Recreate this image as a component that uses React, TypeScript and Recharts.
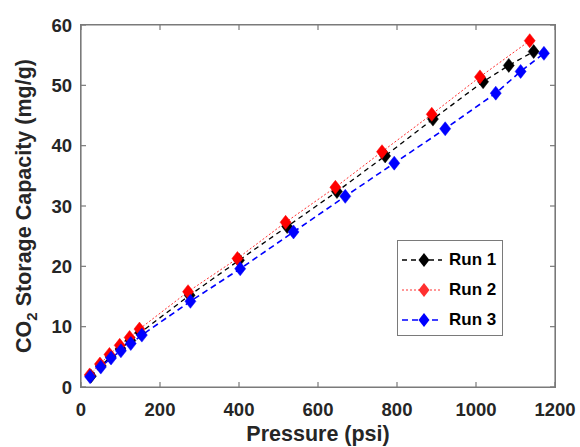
import React from 'react';
import { LineChart, Line, XAxis, YAxis, ReferenceLine } from 'recharts';

const run1X = [25, 50, 75, 100, 125, 150, 275, 400, 522, 648, 770, 891, 1018, 1083, 1146];
const run1Y = [1.8, 3.5, 5.0, 6.3, 7.7, 9.0, 15.2, 21.0, 26.6, 32.4, 38.3, 44.4, 50.6, 53.3, 55.6];
const run2X = [22, 48, 72, 98, 123, 148, 271, 396, 518, 644, 762, 888, 1010, 1136];
const run2Y = [2.0, 3.8, 5.4, 6.9, 8.2, 9.6, 15.8, 21.3, 27.3, 33.1, 39.0, 45.2, 51.4, 57.4];
const run3X = [23, 50, 76, 101, 126, 154, 277, 403, 538, 669, 793, 922, 1050, 1113, 1172];
const run3Y = [1.7, 3.3, 4.8, 6.0, 7.2, 8.6, 14.2, 19.6, 25.7, 31.6, 37.1, 42.8, 48.7, 52.3, 55.3];

const xTicks = [0, 200, 400, 600, 800, 1000, 1200];
const yTicks = [0, 10, 20, 30, 40, 50, 60];
const seriesNames = ['Run 1', 'Run 2', 'Run 3'];

const X_MAX = 1200;
const Y_MAX = 60;

const toPoints = (xs: number[], ys: number[]) => xs.map((x, i) => ({ x, y: ys[i] }));
const data1 = toPoints(run1X, run1Y);
const data2 = toPoints(run2X, run2Y);
const data3 = toPoints(run3X, run3Y);

const FONT = '"Liberation Sans", Arial, Helvetica, sans-serif';
const TEXT = '#262626';
const AXIS = '#7a7a7a';
const TL = 5;

const BottomTick = (p: any) => (
  <g>
    <path d={`M${p.x},${p.y}L${p.x},${p.y - TL}`} stroke={AXIS} strokeWidth={1.2} fill="none" />
    <path d={`M${p.x},25L${p.x},${25 + TL}`} stroke={AXIS} strokeWidth={1.2} fill="none" />
    <text x={p.x} y={p.y + 29} textAnchor="middle" fontFamily={FONT} fontWeight="bold" fontSize={18.5} fill={TEXT}>
      {p.payload.value}
    </text>
  </g>
);
const LeftTick = (p: any) => (
  <g>
    <path d={`M${p.x},${p.y}L${p.x + TL},${p.y}`} stroke={AXIS} strokeWidth={1.2} fill="none" />
    <path d={`M555,${p.y}L${555 - TL},${p.y}`} stroke={AXIS} strokeWidth={1.2} fill="none" />
    <text x={p.x - 9} y={p.y + 6.5} textAnchor="end" fontFamily={FONT} fontWeight="bold" fontSize={18.5} fill={TEXT}>
      {p.payload.value}
    </text>
  </g>
);

const makeDiamond = (color: string) => (p: any) => {
  const { cx, cy, index } = p;
  if (cx == null || cy == null) return <g key={index} />;
  const w = 5.5, h = 7;
  return (
    <path
      key={index}
      d={`M${cx},${cy - h}L${cx + w},${cy}L${cx},${cy + h}L${cx - w},${cy}Z`}
      fill={color}
      stroke={color}
      strokeWidth={0.5}
    />
  );
};

const YLabel = (props: any) => {
  const vb = props.viewBox || { x: 21, y: 25, width: 60, height: 362 };
  const cx = 31;
  const cy = vb.y + vb.height / 2;
  return (
    <text
      x={cx}
      y={cy}
      transform={`rotate(-90, ${cx}, ${cy})`}
      textAnchor="middle"
      fontFamily={FONT}
      fontWeight="bold"
      fontSize={21.5}
      fill={TEXT}
    >
      <tspan>CO</tspan>
      <tspan fontSize={15} dy={6}>2</tspan>
      <tspan dy={-6}> Storage Capacity (mg/g)</tspan>
    </text>
  );
};

const XLabel = (props: any) => {
  const vb = props.viewBox || { x: 81, y: 387, width: 474, height: 30 };
  return (
    <text
      x={vb.x + vb.width / 2}
      y={441}
      textAnchor="middle"
      fontFamily={FONT}
      fontWeight="bold"
      fontSize={21.5}
      fill={TEXT}
    >
      Pressure (psi)
    </text>
  );
};

const legendStyles = [
  { color: '#000000', dash: '5 4', width: 1.3 },
  { color: '#ff3030', dash: '2 2', width: 1 },
  { color: '#0000ff', dash: '6 4', width: 1.6 },
];

const LegendBox = () => (
  <div
    style={{
      position: 'absolute',
      left: 397,
      top: 240,
      width: 106,
      height: 96,
      border: `1px solid ${AXIS}`,
      background: '#fff',
      boxSizing: 'border-box',
    }}
  >
    {seriesNames.map((name, i) => {
      const s = legendStyles[i];
      return (
        <div key={name} style={{ position: 'absolute', left: 0, top: 5 + i * 30, height: 28, width: 106 }}>
          <svg width={48} height={28} style={{ position: 'absolute', left: 2, top: 0 }}>
            <line x1={2} x2={42} y1={14} y2={14} stroke={s.color} strokeWidth={s.width} strokeDasharray={s.dash} />
            <path d="M24,7L29.5,14L24,21L18.5,14Z" fill={s.color} />
          </svg>
          <span
            style={{
              position: 'absolute',
              left: 51,
              top: 3,
              fontFamily: FONT,
              fontWeight: 'bold',
              fontSize: 17,
              color: '#000',
              lineHeight: '22px',
              whiteSpace: 'nowrap',
            }}
          >
            {name}
          </span>
        </div>
      );
    })}
  </div>
);

export default function App() {
  return (
    <div style={{ position: 'absolute', left: 0, top: 0, width: 580, height: 447, background: '#fff' }}>
      <div
        style={{
          position: 'absolute',
          left: 80,
          top: 24,
          width: 476,
          height: 364,
          border: `1px solid ${AXIS}`,
          boxSizing: 'border-box',
          pointerEvents: 'none',
        }}
      />
      <LineChart
        width={580}
        height={447}
        margin={{ top: 25, right: 25, left: 21, bottom: 30 }}
        style={{ position: 'absolute', left: 0, top: 0 }}
      >
        <XAxis
          type="number"
          dataKey="x"
          domain={[0, X_MAX]}
          ticks={xTicks}
          interval={0}
          allowDataOverflow
          height={30}
          tickSize={0}
          tickMargin={0}
          tickLine={false}
          tick={BottomTick}
          axisLine={{ stroke: AXIS, strokeWidth: 1.2 }}
          label={<XLabel />}
        />
        <YAxis
          type="number"
          domain={[0, Y_MAX]}
          ticks={yTicks}
          interval={0}
          allowDataOverflow
          width={60}
          tickSize={0}
          tickMargin={0}
          tickLine={false}
          tick={LeftTick}
          axisLine={{ stroke: AXIS, strokeWidth: 1.2 }}
          label={<YLabel />}
        />
        <ReferenceLine y={Y_MAX} stroke={AXIS} strokeWidth={1.2} ifOverflow="visible" />
        <ReferenceLine x={X_MAX} stroke={AXIS} strokeWidth={1.2} ifOverflow="visible" />
        <Line
          data={data1}
          dataKey="y"
          name={seriesNames[0]}
          type="linear"
          stroke="#000000"
          strokeWidth={1.3}
          strokeDasharray="5 4"
          dot={makeDiamond('#000000')}
          activeDot={false}
          isAnimationActive={false}
        />
        <Line
          data={data2}
          dataKey="y"
          name={seriesNames[1]}
          type="linear"
          stroke="#ff3030"
          strokeWidth={1}
          strokeDasharray="2 2"
          dot={makeDiamond('#ff0000')}
          activeDot={false}
          isAnimationActive={false}
        />
        <Line
          data={data3}
          dataKey="y"
          name={seriesNames[2]}
          type="linear"
          stroke="#0000ff"
          strokeWidth={1.6}
          strokeDasharray="6 4"
          dot={makeDiamond('#0000ff')}
          activeDot={false}
          isAnimationActive={false}
        />
      </LineChart>
      <LegendBox />
    </div>
  );
}
